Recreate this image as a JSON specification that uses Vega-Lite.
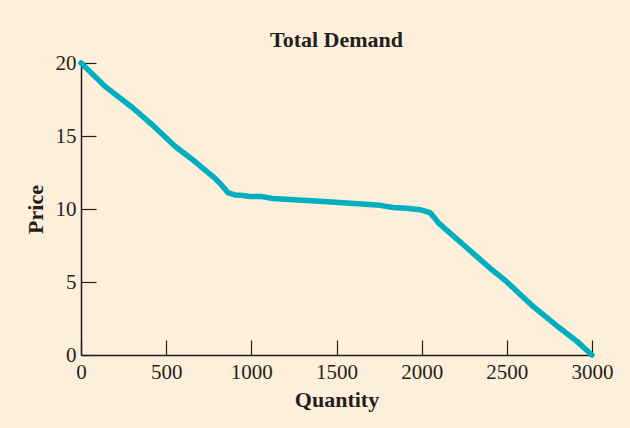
{
  "$schema": "https://vega.github.io/schema/vega-lite/v6.json",
  "autosize": {"type": "none"},
  "padding": {"left": 81, "top": 63, "right": 38, "bottom": 73},
  "width": 511,
  "height": 292,
  "background": "#fdefd9",
  "title": {"text": "Total Demand", "font": "Liberation Serif", "fontSize": 22, "fontWeight": "bold", "color": "#231f20", "offset": 0},
  "config": {"view": {"stroke": null}},
  "data": {"values": [
    {"q": 0, "p": 20},
    {"q": 141, "p": 18.4},
    {"q": 307, "p": 16.9},
    {"q": 415, "p": 15.8},
    {"q": 552, "p": 14.3},
    {"q": 669, "p": 13.25},
    {"q": 787, "p": 12.1},
    {"q": 816, "p": 11.76},
    {"q": 865, "p": 11.1},
    {"q": 904, "p": 10.96},
    {"q": 933, "p": 10.95},
    {"q": 992, "p": 10.85},
    {"q": 1063, "p": 10.85},
    {"q": 1127, "p": 10.72},
    {"q": 1450, "p": 10.5},
    {"q": 1755, "p": 10.25},
    {"q": 1832, "p": 10.1},
    {"q": 1914, "p": 10.05},
    {"q": 1990, "p": 9.95},
    {"q": 2049, "p": 9.75},
    {"q": 2078, "p": 9.36},
    {"q": 2098, "p": 9.05},
    {"q": 2245, "p": 7.55},
    {"q": 2401, "p": 5.95},
    {"q": 2499, "p": 5.02},
    {"q": 2656, "p": 3.31},
    {"q": 2812, "p": 1.83},
    {"q": 2910, "p": 0.95},
    {"q": 3000, "p": 0}
  ]},
  "mark": {"type": "line", "color": "#00afbf", "strokeWidth": 5.5, "strokeCap": "round", "strokeJoin": "round"},
  "encoding": {
    "x": {"field": "q", "type": "quantitative", "scale": {"domain": [0, 3000], "nice": false},
      "axis": {"title": "Quantity", "values": [0, 500, 1000, 1500, 2000, 2500, 3000], "format": "d", "grid": false,
        "domainColor": "#231f20", "domainWidth": 1.5, "tickColor": "#231f20", "tickWidth": 1.2, "tickSize": -15,
        "labelFont": "Liberation Serif", "labelFontSize": 21, "labelColor": "#231f20", "labelPadding": 21, "labelFlush": false,
        "titleFont": "Liberation Serif", "titleFontSize": 22, "titleFontWeight": "bold", "titleColor": "#231f20", "titlePadding": 7}},
    "y": {"field": "p", "type": "quantitative", "scale": {"domain": [0, 20], "nice": false},
      "axis": {"title": "Price", "values": [0, 5, 10, 15, 20], "format": "d", "grid": false,
        "domainColor": "#231f20", "domainWidth": 1.5, "tickColor": "#231f20", "tickWidth": 1.2, "tickSize": -15,
        "labelFont": "Liberation Serif", "labelFontSize": 21, "labelColor": "#231f20", "labelPadding": 20, "labelFlush": false,
        "titleFont": "Liberation Serif", "titleFontSize": 22, "titleFontWeight": "bold", "titleColor": "#231f20", "titlePadding": 8}}
  }
}
